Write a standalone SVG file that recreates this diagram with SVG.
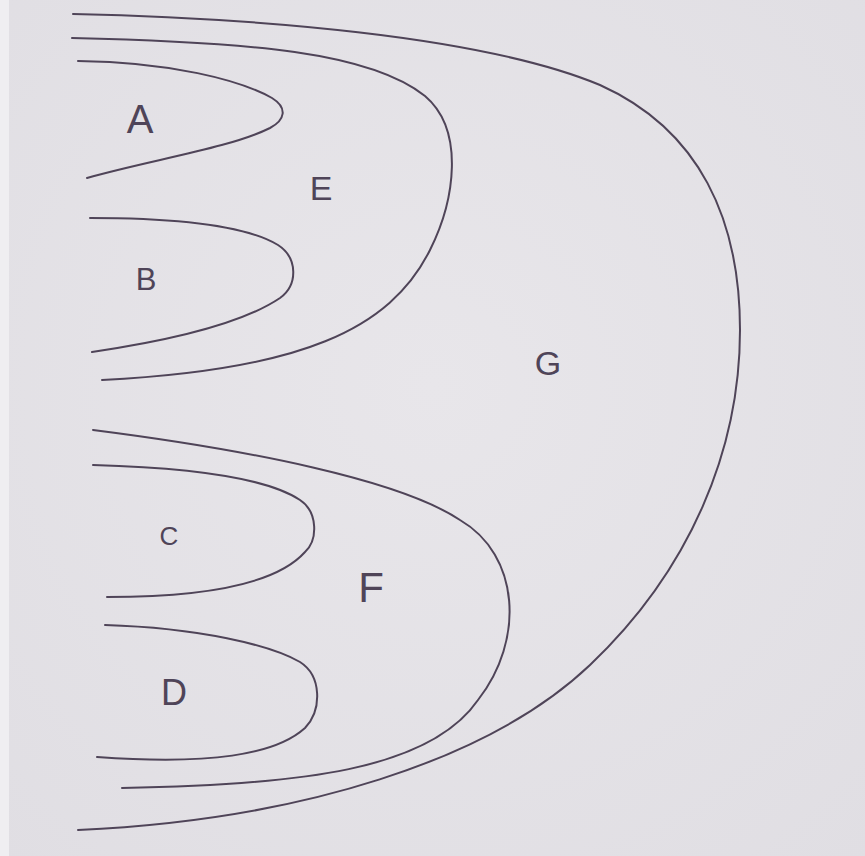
<svg xmlns="http://www.w3.org/2000/svg" width="865" height="856" viewBox="0 0 865 856">
<style>
.c{fill:none;stroke:#4f4458;stroke-width:2;stroke-linecap:round;stroke-linejoin:round}
.t{font-family:"Liberation Sans",Arial,sans-serif;fill:#4f4458;text-anchor:middle;font-weight:normal}
</style>
<defs>
<radialGradient id="paper" cx="0.5" cy="0.45" r="0.75">
<stop offset="0" stop-color="#e8e6ea"/>
<stop offset="1" stop-color="#e0dee3"/>
</radialGradient>
</defs>
<rect width="865" height="856" fill="url(#paper)"/>
<rect width="9" height="856" fill="#efeef1"/>
<g id="G">
<path class="c" d="M73,14 C250,18 480,35 600,85 C700,130 740,220 740,330 C740,450 690,570 590,665 C490,760 300,820 78,830"/>
<text class="t" x="548" y="375" font-size="34">G</text>
</g>
<g id="E">
<path class="c" d="M72,38 C250,42 370,52 425,96 C465,130 455,200 430,250 C390,330 300,370 102,380"/>
<text class="t" x="321" y="200" font-size="34">E</text>
</g>
<g id="A">
<path class="c" d="M78,61 C170,62 240,80 272,98 C288,108 285,120 270,128 C230,148 150,160 87,178"/>
<text class="t" x="140" y="133" font-size="40">A</text>
</g>
<g id="B">
<path class="c" d="M90,218 C190,218 250,228 278,245 C298,258 298,285 280,298 C240,325 160,342 92,352"/>
<text class="t" x="146" y="290" font-size="31">B</text>
</g>
<g id="F">
<path class="c" d="M93,430 C250,450 400,480 460,520 C520,555 525,640 478,700 C430,770 300,785 122,788"/>
<text class="t" x="371" y="602" font-size="42">F</text>
</g>
<g id="C">
<path class="c" d="M93,465 C200,468 270,480 300,500 C318,512 318,540 305,552 C280,580 220,597 107,597"/>
<text class="t" x="169" y="545" font-size="26">C</text>
</g>
<g id="D">
<path class="c" d="M105,625 C200,628 270,645 300,662 C322,676 322,710 305,728 C275,755 210,765 97,757"/>
<text class="t" x="174" y="705" font-size="36">D</text>
</g>
<g id="connectors"/>
</svg>
